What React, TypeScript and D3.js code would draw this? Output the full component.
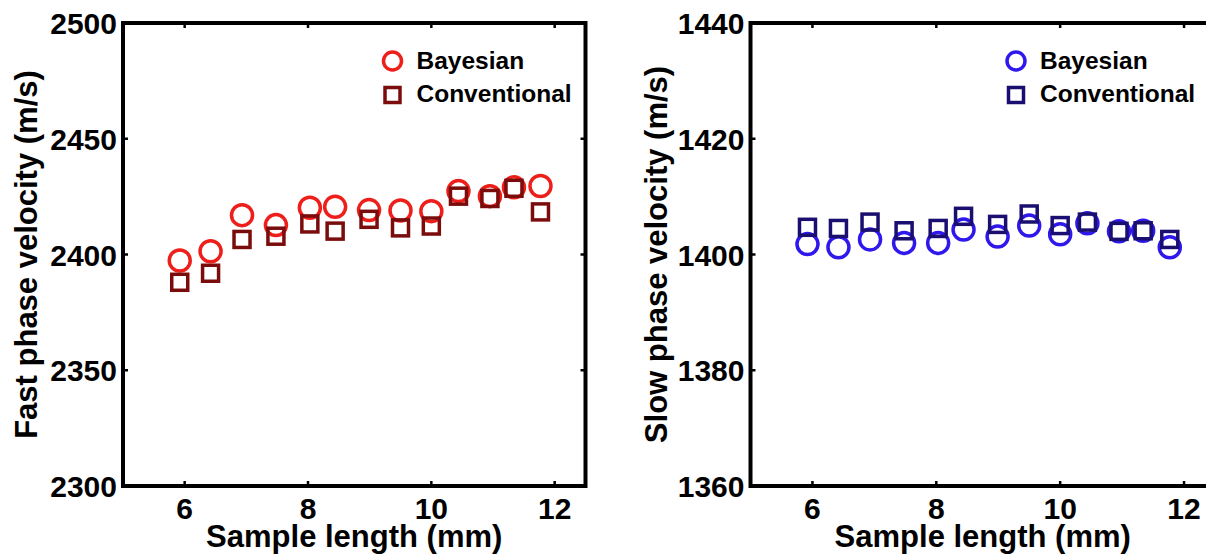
import React from "react";
import * as d3 from "d3";

// ---- data ----
const sampleLength = [5.92, 6.42, 6.93, 7.48, 8.03, 8.44, 8.99, 9.5, 10.0, 10.44, 10.95, 11.34, 11.77];
const fastBayesian = [2397.4, 2401.4, 2417.0, 2412.7, 2420.2, 2420.6, 2419.2, 2419.0, 2418.7, 2427.4, 2425.2, 2429.0, 2429.6];
const fastConventional = [2388.0, 2391.9, 2406.5, 2407.9, 2413.2, 2410.1, 2415.2, 2411.5, 2412.3, 2425.2, 2424.2, 2428.6, 2418.4];
const slowBayesian = [1401.8, 1401.25, 1402.6, 1402.0, 1402.0, 1404.3, 1403.1, 1405.0, 1403.5, 1405.4, 1404.0, 1404.1, 1401.25];
const slowConventional = [1404.7, 1404.5, 1405.6, 1404.1, 1404.5, 1406.6, 1405.2, 1407.0, 1405.0, 1405.6, 1404.0, 1404.1, 1402.6];

const xTicks = [6, 8, 10, 12];
const fastTicks = [2300, 2350, 2400, 2450, 2500];
const slowTicks = [1360, 1380, 1400, 1420, 1440];
const xDomain: [number, number] = [5, 12.5];
const fastDomain: [number, number] = [2300, 2500];
const slowDomain: [number, number] = [1360, 1440];
const legendLabels = ["Bayesian", "Conventional"];
const xLabel = "Sample length (mm)";

const FONT = "'Liberation Sans', Arial, Helvetica, sans-serif";

type PanelProps = {
  left: number;
  right: number;
  yDomain: [number, number];
  yTicks: number[];
  bayes: number[];
  conv: number[];
  bayesColor: string;
  convColor: string;
  yLabel: string;
  yLabelX: number;
  legendX: number;
};

function Panel(p: PanelProps) {
  const top = 23;
  const bottom = 486;
  const x = d3.scaleLinear().domain(xDomain).range([p.left, p.right]);
  const y = d3.scaleLinear().domain(p.yDomain).range([bottom, top]);
  const tickLen = 5;
  const r = 10.5;
  const sq = 16;
  return (
    <g>
      {/* data: circles first, squares on top */}
      {sampleLength.map((s, i) => (
        <circle key={"b" + i} cx={x(s)} cy={y(p.bayes[i])} r={r} fill="none" stroke={p.bayesColor} strokeWidth={3.5} />
      ))}
      {sampleLength.map((s, i) => (
        <rect key={"c" + i} x={x(s) - sq / 2} y={y(p.conv[i]) - sq / 2} width={sq} height={sq} fill="none" stroke={p.convColor} strokeWidth={3.5} />
      ))}
      {/* box */}
      <rect x={p.left} y={top} width={p.right - p.left} height={bottom - top} fill="none" stroke="#000" strokeWidth={4} />
      {/* x ticks */}
      {xTicks.map((t) => (
        <g key={"xt" + t}>
          <line x1={x(t)} x2={x(t)} y1={bottom} y2={bottom - tickLen} stroke="#000" strokeWidth={2.5} />
          <line x1={x(t)} x2={x(t)} y1={top} y2={top + tickLen} stroke="#000" strokeWidth={2.5} />
          <text x={x(t)} y={519} textAnchor="middle" fontSize={30} fontWeight="bold" fontFamily={FONT}>{t}</text>
        </g>
      ))}
      {/* y ticks */}
      {p.yTicks.map((t) => (
        <g key={"yt" + t}>
          <line x1={p.left} x2={p.left + tickLen} y1={y(t)} y2={y(t)} stroke="#000" strokeWidth={2.5} />
          <line x1={p.right} x2={p.right - tickLen} y1={y(t)} y2={y(t)} stroke="#000" strokeWidth={2.5} />
          <text x={p.left - 6} y={y(t) + 11} textAnchor="end" fontSize={30} fontWeight="bold" fontFamily={FONT}>{t}</text>
        </g>
      ))}
      {/* axis labels */}
      <text x={(p.left + p.right) / 2} y={547} textAnchor="middle" fontSize={31} fontWeight="bold" fontFamily={FONT}>{xLabel}</text>
      <text transform={`translate(${p.yLabelX},${(top + bottom) / 2}) rotate(-90)`} textAnchor="middle" fontSize={31} fontWeight="bold" fontFamily={FONT}>{p.yLabel}</text>
      {/* legend */}
      <circle cx={p.legendX} cy={61} r={9} fill="none" stroke={p.bayesColor} strokeWidth={3.5} />
      <text x={p.legendX + 24} y={69} fontSize={24.5} fontWeight="bold" fontFamily={FONT}>{legendLabels[0]}</text>
      <rect x={p.legendX - 7.5} y={95 - 7.5} width={15} height={15} fill="none" stroke={p.convColor} strokeWidth={3.5} />
      <text x={p.legendX + 24} y={102} fontSize={24.5} fontWeight="bold" fontFamily={FONT}>{legendLabels[1]}</text>
    </g>
  );
}

export default function App() {
  return (
    <svg width={1206} height={554} style={{ position: "absolute", left: 0, top: 0, background: "#fff" }}>
      <rect x={0} y={0} width={1206} height={554} fill="#fff" />
      <Panel
        left={123}
        right={585.5}
        yDomain={fastDomain}
        yTicks={fastTicks}
        bayes={fastBayesian}
        conv={fastConventional}
        bayesColor="#ee1f1a"
        convColor="#7a0c0c"
        yLabel="Fast phase velocity (m/s)"
        yLabelX={37}
        legendX={392.5}
      />
      <Panel
        left={750.5}
        right={1215}
        yDomain={slowDomain}
        yTicks={slowTicks}
        bayes={slowBayesian}
        conv={slowConventional}
        bayesColor="#2f18ec"
        convColor="#1a0f70"
        yLabel="Slow phase velocity (m/s)"
        yLabelX={667}
        legendX={1016}
      />
    </svg>
  );
}
